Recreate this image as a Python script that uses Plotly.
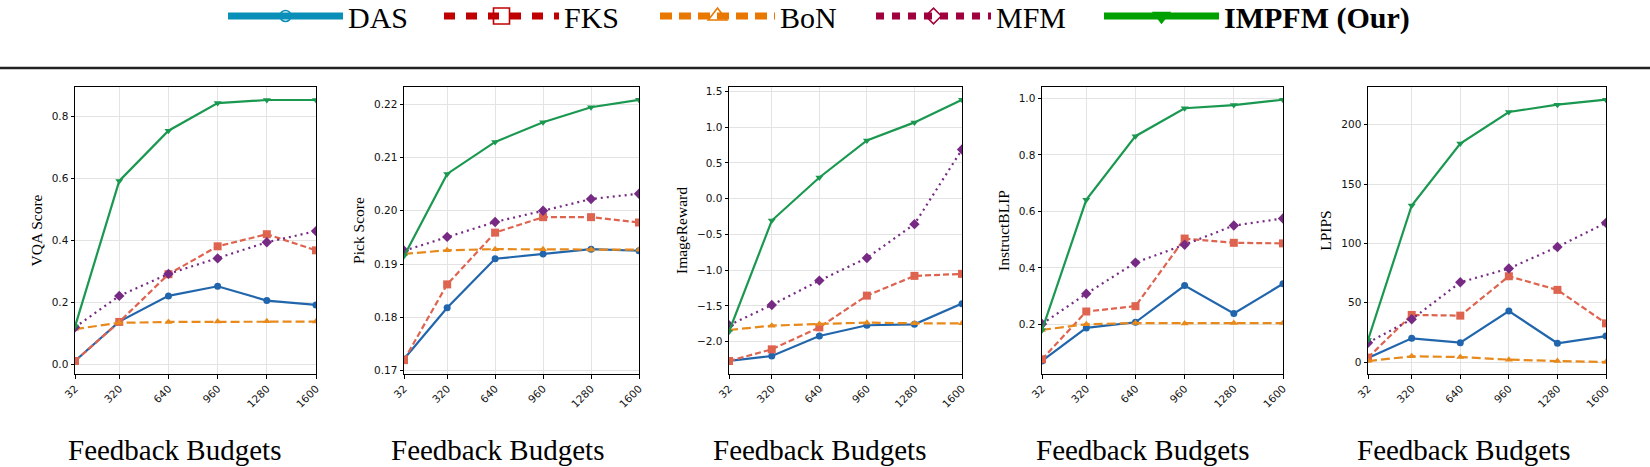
import plotly.graph_objects as go

W, H = 1650, 467

budgets = [32, 320, 640, 960, 1280, 1600]
budget_labels = ["32", "320", "640", "960", "1280", "1600"]

methods = ["DAS", "FKS", "BoN", "MFM", "IMPFM (Our)"]

# VQA Score
das_vqa = [0.011, 0.138, 0.221, 0.252, 0.206, 0.192]
fks_vqa = [0.011, 0.137, 0.291, 0.381, 0.420, 0.368]
bon_vqa = [0.114, 0.134, 0.137, 0.138, 0.139, 0.138]
mfm_vqa = [0.120, 0.221, 0.292, 0.342, 0.394, 0.430]
imp_vqa = [0.122, 0.592, 0.754, 0.843, 0.853, 0.853]

# Pick Score
das_pick = [0.1722, 0.1818, 0.1910, 0.1919, 0.1928, 0.1925]
fks_pick = [0.1720, 0.1862, 0.1959, 0.1988, 0.1988, 0.1978]
bon_pick = [0.1919, 0.1926, 0.1928, 0.1928, 0.1927, 0.1927]
mfm_pick = [0.1925, 0.1951, 0.1979, 0.2000, 0.2022, 0.2032]
imp_pick = [0.1915, 0.2069, 0.2129, 0.2166, 0.2194, 0.2208]

# ImageReward
das_ir = [-2.27, -2.20, -1.92, -1.77, -1.757, -1.468]
fks_ir = [-2.27, -2.107, -1.80, -1.356, -1.08, -1.052]
bon_ir = [-1.837, -1.776, -1.752, -1.734, -1.743, -1.743]
mfm_ir = [-1.77, -1.487, -1.146, -0.829, -0.357, 0.688]
imp_ir = [-1.86, -0.306, 0.296, 0.814, 1.066, 1.383]

# InstructBLIP
das_ib = [0.071, 0.188, 0.208, 0.338, 0.239, 0.344]
fks_ib = [0.077, 0.246, 0.265, 0.504, 0.489, 0.487]
bon_ib = [0.181, 0.201, 0.205, 0.204, 0.205, 0.205]
mfm_ib = [0.202, 0.309, 0.419, 0.482, 0.550, 0.575]
imp_ib = [0.180, 0.641, 0.866, 0.965, 0.976, 0.995]

# LPIPS
das_lp = [3.4, 20.0, 16.3, 43.0, 15.8, 21.9]
fks_lp = [3.7, 39.7, 39.1, 72.3, 60.8, 32.6]
bon_lp = [0.8, 4.8, 4.2, 2.0, 0.8, 0.0]
mfm_lp = [16.3, 36.0, 67.2, 78.8, 97.0, 117.3]
imp_lp = [18.6, 131.9, 184.2, 210.7, 216.9, 221.1]

metric_names = ["VQA Score", "Pick Score", "ImageReward", "InstructBLIP", "LPIPS"]
metric_data = [
    [das_vqa, fks_vqa, bon_vqa, mfm_vqa, imp_vqa],
    [das_pick, fks_pick, bon_pick, mfm_pick, imp_pick],
    [das_ir, fks_ir, bon_ir, mfm_ir, imp_ir],
    [das_ib, fks_ib, bon_ib, mfm_ib, imp_ib],
    [das_lp, fks_lp, bon_lp, mfm_lp, imp_lp],
]
y_ranges = [[-0.031, 0.895], [0.1694, 0.2232], [-2.452, 1.561], [0.025, 1.040], [-10.1, 231.8]]
y_ticks = [
    [0.0, 0.2, 0.4, 0.6, 0.8],
    [0.17, 0.18, 0.19, 0.20, 0.21, 0.22],
    [-2.0, -1.5, -1.0, -0.5, 0.0, 0.5, 1.0, 1.5],
    [0.2, 0.4, 0.6, 0.8, 1.0],
    [0, 50, 100, 150, 200],
]
y_fmt = [".1f", ".2f", ".1f", ".1f", "d"]

# plot styles
plot_colors = ["#2166ac", "#de6450", "#e8891c", "#762a83", "#1a9850"]
plot_symbols = ["circle", "square", "triangle-up", "diamond", "triangle-down"]
plot_dash = ["solid", "6px,3px", "9px,4px", "2px,4px", "solid"]
plot_msize = [7, 8, 7, 8, 7]

# legend styles
leg_colors = ["#0a8fb8", "#c00000", "#e87800", "#a0003c", "#00a000"]
leg_symbols = ["circle-open", "square-open", "triangle-up-open", "diamond-open", "triangle-down"]
leg_dash = ["solid", "11px,11px", "12px,7px", "8px,8px", "solid"]
leg_msize = [11, 16, 16, 12, 14]
leg_names = ["DAS", "FKS", "BoN", "MFM", "<b>IMPFM (Our)</b>"]
leg_group = ["legend", "legend", "legend", "legend", "legend2"]

x_px = [(75, 316), (404, 639), (729, 962), (1042, 1283), (1368, 1606)]
y_dom = [1 - 374 / H, 1 - 87 / H]
xlabel_centers = [174, 497, 819, 1142, 1463]

fig = go.Figure()

for i in range(5):
    xa = "x" if i == 0 else f"x{i+1}"
    ya = "y" if i == 0 else f"y{i+1}"
    for j in range(5):
        fig.add_trace(go.Scatter(
            x=budgets, y=metric_data[i][j], mode="lines+markers",
            xaxis=xa, yaxis=ya, showlegend=False,
            line=dict(color=plot_colors[j], width=2.2, dash=plot_dash[j]),
            marker=dict(symbol=plot_symbols[j], size=plot_msize[j], color=plot_colors[j],
                        line=dict(width=0)),
        ))

for j in range(5):
    fig.add_trace(go.Scatter(
        x=[None], y=[None], mode="lines+markers", name=leg_names[j],
        xaxis="x", yaxis="y", showlegend=True, legend=leg_group[j],
        line=dict(color=leg_colors[j], width=7, dash=leg_dash[j]),
        marker=dict(symbol=leg_symbols[j], size=leg_msize[j], color=leg_colors[j],
                    line=dict(width=1.6, color=leg_colors[j])),
    ))

leg_font = dict(family="Liberation Serif, Times New Roman, serif", size=30, color="black")
layout = dict(
    width=W, height=H,
    margin=dict(l=0, r=0, t=0, b=0, autoexpand=False),
    paper_bgcolor="white", plot_bgcolor="white",
    showlegend=True,
    legend=dict(
        orientation="h", x=(228 - 5) / W, xanchor="left", y=1 + 10 / H, yanchor="top",
        font=leg_font, itemwidth=115, entrywidth=86,
        bgcolor="rgba(0,0,0,0)", tracegroupgap=0,
    ),
    legend2=dict(
        orientation="h", x=(1104 - 5) / W, xanchor="left", y=1 + 10 / H, yanchor="top",
        font=leg_font, itemwidth=115,
        bgcolor="rgba(0,0,0,0)", tracegroupgap=0,
    ),
    shapes=[dict(type="line", xref="paper", yref="paper", x0=0, x1=1,
                 y0=1 - 68 / H, y1=1 - 68 / H, line=dict(color="#222222", width=2.5))],
    annotations=[],
)

tickfont = dict(family="DejaVu Sans, sans-serif", size=10.5, color="#111111")
for i in range(5):
    xk = "xaxis" if i == 0 else f"xaxis{i+1}"
    yk = "yaxis" if i == 0 else f"yaxis{i+1}"
    xname = "x" if i == 0 else f"x{i+1}"
    yname = "y" if i == 0 else f"y{i+1}"
    layout[xk] = dict(
        domain=[x_px[i][0] / W, x_px[i][1] / W], anchor=yname,
        range=[32, 1600], tickvals=budgets, ticktext=budget_labels,
        tickangle=-45, tickfont=tickfont,
        showgrid=True, gridcolor="#e3e3e3", gridwidth=1,
        showline=True, linecolor="black", linewidth=1, mirror=True,
        ticks="outside", ticklen=3.5, tickwidth=0.8, tickcolor="black",
        zeroline=False, automargin=False,
    )
    layout[yk] = dict(
        domain=y_dom, anchor=xname,
        range=y_ranges[i], tickvals=y_ticks[i], tickformat=y_fmt[i],
        tickfont=tickfont,
        showgrid=True, gridcolor="#e3e3e3", gridwidth=1,
        showline=True, linecolor="black", linewidth=1, mirror=True,
        ticks="outside", ticklen=3.5, tickwidth=0.8, tickcolor="black",
        zeroline=False, automargin=False,
        title=dict(text=metric_names[i], standoff=5,
                   font=dict(family="Liberation Serif, Times New Roman, serif", size=15.5, color="black")),
    )
    layout["annotations"].append(dict(
        text="Feedback Budgets", xref="paper", yref="paper",
        x=xlabel_centers[i] / W, y=1 - 450 / H, xanchor="center", yanchor="middle",
        showarrow=False,
        font=dict(family="Liberation Serif, Times New Roman, serif", size=29, color="black"),
    ))

fig.update_layout(**layout)
fig.write_html("out.html")
